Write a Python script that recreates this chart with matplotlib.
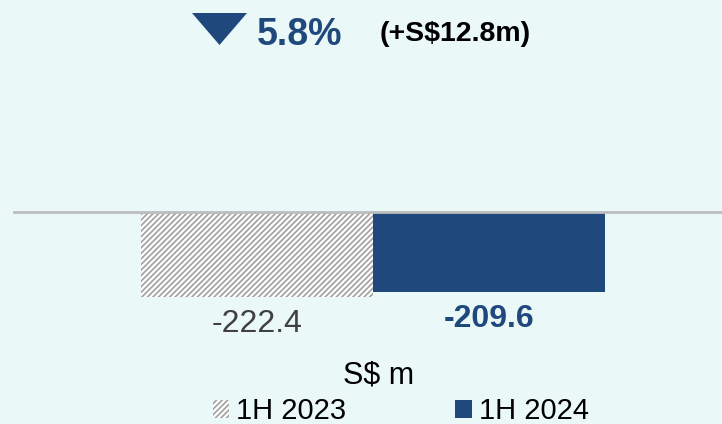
import matplotlib.pyplot as plt
from matplotlib.patches import Patch, Polygon

periods = ['1H 2023', '1H 2024']
values = [-222.4, -209.6]
labels = ['-222.4', '-209.6']
change_pct = '5.8%'
change_abs = '(+S$12.8m)'
unit = 'S$ m'

bg = '#EAF8F8'
blue = '#1F497D'
hatch_grey = '#A0A0A0'

plt.rcParams['font.family'] = ['Liberation Sans', 'DejaVu Sans']
plt.rcParams['hatch.linewidth'] = 1.2

W, H = 722, 424
fig = plt.figure(figsize=(W / 100, H / 100), dpi=100, facecolor=bg)
ax = fig.add_axes([0, 0, 1, 1])
ax.set_facecolor(bg)
ax.set_xlim(-1.108, 2.004)
ax.set_ylim(-555, 555)
ax.axis('off')

x = list(range(len(values)))
ax.bar(x[0], values[0], width=1.0, facecolor='white', hatch='//////', edgecolor=hatch_grey, linewidth=0)
ax.bar(x[1], values[1], width=1.0, color=blue, edgecolor='none', linewidth=0)
ax.axhline(0, xmin=14 / W, xmax=1, color='#BDBDBD', linewidth=2)

ax.text(x[0], values[0] - 70, labels[0], ha='center', va='center', fontsize=23, color='#404040')
ax.text(x[1], values[1] - 70, labels[1], ha='center', va='center', fontsize=23, color=blue, fontweight='bold')

# header: down triangle, percentage, absolute change
tri = Polygon([(192 / W, 1 - 13 / H), (247 / W, 1 - 13 / H), (219.5 / W, 1 - 45 / H)],
              closed=True, transform=fig.transFigure, facecolor=blue, edgecolor='none')
fig.patches.append(tri)
fig.text(257 / W, 0.918, change_pct, ha='left', va='center', fontsize=27, color=blue, fontweight='bold')
fig.text(380 / W, 0.92, change_abs, ha='left', va='center', fontsize=20.5, color='black', fontweight='bold')

fig.text(379 / W, 1 - 375 / H, unit, ha='center', va='center', fontsize=22, color='black')

handles = [Patch(facecolor='white', hatch='//////', edgecolor=hatch_grey, linewidth=0),
           Patch(facecolor=blue, edgecolor='none')]
fig.legend(handles, periods, loc='center', bbox_to_anchor=(0.555, 0.03), ncol=2,
           frameon=False, fontsize=21, handlelength=0.55, handleheight=0.55,
           handletextpad=0.24, columnspacing=3.75, borderpad=0)

fig.savefig('out.png', dpi=100, facecolor=bg)
